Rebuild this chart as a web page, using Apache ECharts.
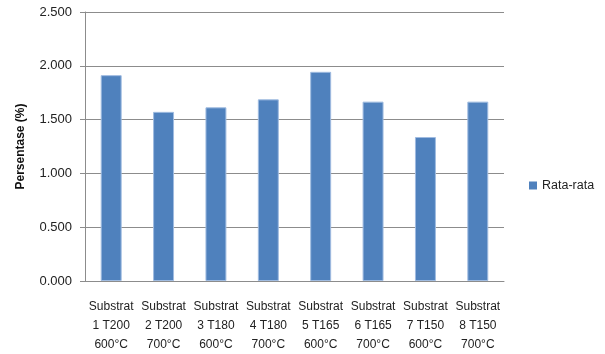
<!DOCTYPE html>
<html>
<head>
<meta charset="utf-8">
<script src="https://cdn.jsdelivr.net/npm/echarts@6/dist/echarts.min.js"></script>
<style>
  html, body { margin: 0; padding: 0; background: #fff; }
  #chart { width: 605px; height: 354px; }
</style>
</head>
<body>
<div id="chart"></div>
<script>
// Substrate samples: number, temperature code, annealing temperature
const categories = [
  'Substrat\n1 T200\n600°C',
  'Substrat\n2 T200\n700°C',
  'Substrat\n3 T180\n600°C',
  'Substrat\n4 T180\n700°C',
  'Substrat\n5 T165\n600°C',
  'Substrat\n6 T165\n700°C',
  'Substrat\n7 T150\n600°C',
  'Substrat\n8 T150\n700°C'
];
// Average percentage per substrate
const rataRata = [1.913, 1.572, 1.614, 1.688, 1.944, 1.667, 1.338, 1.667];
const seriesName = 'Rata-rata';
const yAxisTitle = 'Persentase (%)';

const chart = echarts.init(document.getElementById('chart'), null, { renderer: 'canvas' });
const font = 'Liberation Sans, Arial, sans-serif';

chart.setOption({
  animation: false,
  backgroundColor: '#ffffff',
  grid: { left: 85, right: 101, top: 12, bottom: 71 },
  legend: {
    data: [seriesName],
    orient: 'vertical',
    left: 524,
    top: 174,
    itemWidth: 8,
    itemHeight: 8,
    itemGap: 4,
    icon: 'rect',
    itemStyle: { borderWidth: 0 },
    textStyle: { fontFamily: font, fontSize: 12.5, color: '#222' }
  },
  xAxis: {
    type: 'category',
    data: categories,
    axisLine: { lineStyle: { color: '#8c8c8c', width: 1 } },
    axisTick: { show: false },
    axisLabel: {
      interval: 0,
      margin: 16,
      fontFamily: font,
      fontSize: 12,
      lineHeight: 19,
      color: '#222'
    }
  },
  yAxis: {
    type: 'value',
    min: 0,
    max: 2.5,
    interval: 0.5,
    name: yAxisTitle,
    nameLocation: 'middle',
    nameGap: 58,
    nameRotate: 90,
    nameTextStyle: { fontFamily: font, fontSize: 12, fontWeight: 'bold', color: '#111' },
    axisLine: { show: true, lineStyle: { color: '#8c8c8c', width: 1 } },
    axisTick: { show: true, length: 5, lineStyle: { color: '#8c8c8c' } },
    splitLine: { lineStyle: { color: '#8c8c8c', width: 1 } },
    axisLabel: {
      margin: 13,
      fontFamily: font,
      fontSize: 13,
      color: '#222',
      formatter: v => v.toFixed(3)
    }
  },
  series: [{
    name: seriesName,
    type: 'bar',
    data: rataRata,
    barWidth: '40%',
    itemStyle: {
      color: '#4f81bd',
      borderColor: '#9fbbe0',
      borderWidth: 1
    }
  }]
});
</script>
</body>
</html>
